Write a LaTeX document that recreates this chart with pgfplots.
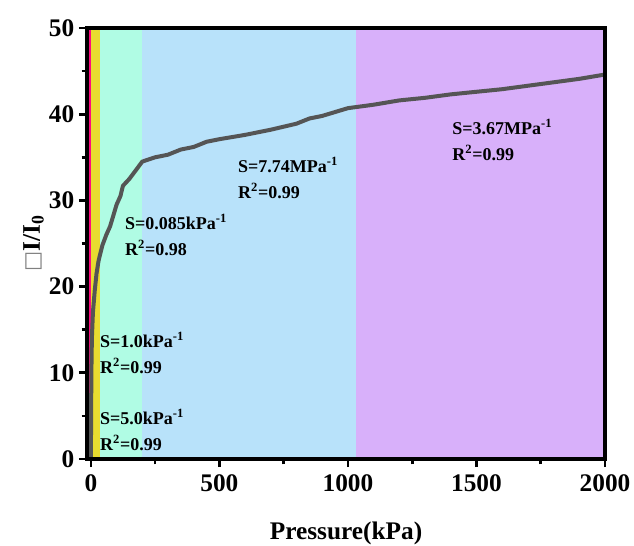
\documentclass[border=0pt]{standalone}
\usepackage{fontspec}
\setmainfont{Liberation Serif}
\newfontfamily\dejavu{DejaVu Sans}
\usepackage{pgfplots}
\pgfplotsset{compat=1.18}
\definecolor{cpink}{RGB}{255,10,127}
\definecolor{cyel}{RGB}{232,220,48}
\definecolor{cmint}{RGB}{176,252,228}
\definecolor{cblue}{RGB}{184,226,250}
\definecolor{cpurp}{RGB}{216,176,250}
\definecolor{cline}{RGB}{85,85,85}
\begin{document}
\begin{tikzpicture}
\useasboundingbox (-65.25pt,-64.5pt) rectangle (410.25pt,344.25pt);
\begin{axis}[
 scale only axis, width=388.5pt, height=323.25pt,
 xmin=-15, xmax=2000, ymin=0, ymax=50,
 xtick={0,500,...,2000}, minor xtick={250,750,1250,1750},
 ytick={0,10,...,50}, minor ytick={5,15,...,45},
 tick align=outside, tick pos=left,
 major tick length=6pt, minor tick length=4pt,
 every tick/.style={black, line width=2pt},
 axis line style={line width=2.5pt},
 axis on top,
 ticklabel style={font=\fontsize{19}{19}\selectfont\bfseries},
 xticklabel style={yshift=-2pt},
 /pgf/number format/assume math mode=true,
 /pgf/number format/1000 sep={},
 xlabel={Pressure(kPa)},
 ylabel={{\dejavu\mdseries\color{gray}\fontsize{16}{16}\selectfont □}I/I\textsubscript{0}},
 label style={font=\fontsize{19}{19}\selectfont\bfseries},
 xlabel style={yshift=-16pt},
 ylabel style={yshift=-3pt},
]
\addplot[fill=cpink, draw=none] coordinates {(-15,0) (2.5,0) (2.5,50) (-15,50)} -- cycle;
\addplot[fill=cyel, draw=none] coordinates {(2.5,0) (35,0) (35,50) (2.5,50)} -- cycle;
\addplot[fill=cmint, draw=none] coordinates {(35,0) (200,0) (200,50) (35,50)} -- cycle;
\addplot[fill=cblue, draw=none] coordinates {(200,0) (1031,0) (1031,50) (200,50)} -- cycle;
\addplot[fill=cpurp, draw=none] coordinates {(1031,0) (2000,0) (2000,50) (1031,50)} -- cycle;
\addplot[cline, line width=3pt, line join=round] coordinates {
(0,0) (1,5) (2,10) (4,14) (8,17) (15,19.5) (22,21.5) (30,23) (45,24.8) (60,26) (75,27) (90,28.5) (100,29.5) (115,30.5) (125,31.7) (150,32.5) (175,33.5) (200,34.5) (250,35) (300,35.3) (350,35.9) (400,36.2) (450,36.8) (500,37.1) (600,37.6) (700,38.2) (800,38.9) (850,39.5) (900,39.8) (1000,40.7) (1100,41.1) (1200,41.6) (1300,41.9) (1400,42.3) (1500,42.6) (1600,42.9) (1700,43.3) (1800,43.7) (1900,44.1) (2000,44.6)};
\begin{scope}[every node/.style={anchor=west, font=\fontsize{13.5}{13.5}\selectfont\bfseries, inner sep=0pt}]
\node at (axis cs:35,4.9) {S=5.0kPa\textsuperscript{-1}};
\node at (axis cs:35,1.9) {R\textsuperscript{2}=0.99};
\node at (axis cs:35,13.8) {S=1.0kPa\textsuperscript{-1}};
\node at (axis cs:35,10.8) {R\textsuperscript{2}=0.99};
\node at (axis cs:132,27.5) {S=0.085kPa\textsuperscript{-1}};
\node at (axis cs:132,24.5) {R\textsuperscript{2}=0.98};
\node at (axis cs:572,34.1) {S=7.74MPa\textsuperscript{-1}};
\node at (axis cs:572,31.1) {R\textsuperscript{2}=0.99};
\node at (axis cs:1405,38.5) {S=3.67MPa\textsuperscript{-1}};
\node at (axis cs:1405,35.5) {R\textsuperscript{2}=0.99};
\end{scope}
\end{axis}
\end{tikzpicture}
\end{document}
